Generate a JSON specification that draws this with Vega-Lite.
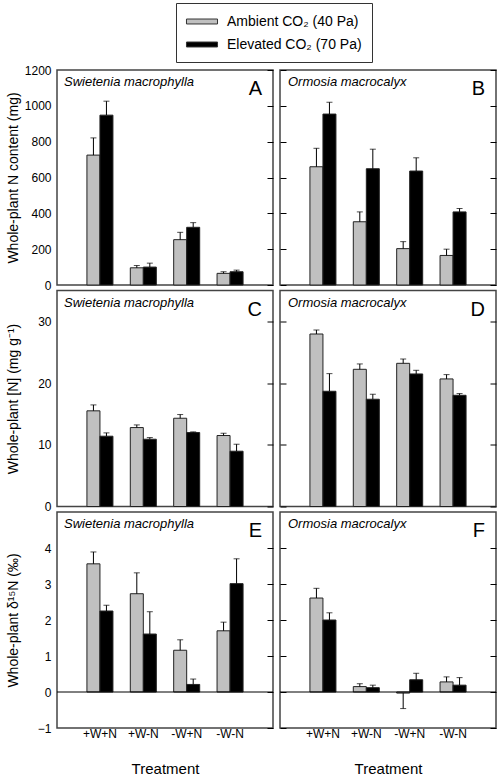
{
"$schema": "https://vega.github.io/schema/vega-lite/v6.json",
"background": "white",
"padding": {"left": 5, "top": 2, "right": 0, "bottom": 0},
"columns": 2,
"bounds": "flush",
"spacing": {"row": 5.5, "column": 7},
"config": {
  "font": "Liberation Sans",
  "view": {"stroke": "#444", "strokeWidth": 1.5},
  "axis": {"labelColor": "black", "titleColor": "black", "tickColor": "black", "labelFontSize": 12, "titleFontWeight": "normal", "grid": false, "domain": false, "tickWidth": 1},
  "legend": {"labelColor": "black"}
},
"datasets": {
  "bars": [
    {"panel": "A", "treatment": "+W+N", "co2": "Ambient CO₂ (40 Pa)", "value": 725, "hi": 821},
    {"panel": "A", "treatment": "+W+N", "co2": "Elevated CO₂ (70 Pa)", "value": 948, "hi": 1026},
    {"panel": "A", "treatment": "+W-N", "co2": "Ambient CO₂ (40 Pa)", "value": 96, "hi": 109},
    {"panel": "A", "treatment": "+W-N", "co2": "Elevated CO₂ (70 Pa)", "value": 100, "hi": 122},
    {"panel": "A", "treatment": "-W+N", "co2": "Ambient CO₂ (40 Pa)", "value": 253, "hi": 294},
    {"panel": "A", "treatment": "-W+N", "co2": "Elevated CO₂ (70 Pa)", "value": 322, "hi": 348},
    {"panel": "A", "treatment": "-W-N", "co2": "Ambient CO₂ (40 Pa)", "value": 65, "hi": 74},
    {"panel": "A", "treatment": "-W-N", "co2": "Elevated CO₂ (70 Pa)", "value": 74, "hi": 83},
    {"panel": "B", "treatment": "+W+N", "co2": "Ambient CO₂ (40 Pa)", "value": 660, "hi": 763},
    {"panel": "B", "treatment": "+W+N", "co2": "Elevated CO₂ (70 Pa)", "value": 954, "hi": 1020},
    {"panel": "B", "treatment": "+W-N", "co2": "Ambient CO₂ (40 Pa)", "value": 353, "hi": 408},
    {"panel": "B", "treatment": "+W-N", "co2": "Elevated CO₂ (70 Pa)", "value": 649, "hi": 758},
    {"panel": "B", "treatment": "-W+N", "co2": "Ambient CO₂ (40 Pa)", "value": 203, "hi": 242},
    {"panel": "B", "treatment": "-W+N", "co2": "Elevated CO₂ (70 Pa)", "value": 636, "hi": 710},
    {"panel": "B", "treatment": "-W-N", "co2": "Ambient CO₂ (40 Pa)", "value": 165, "hi": 200},
    {"panel": "B", "treatment": "-W-N", "co2": "Elevated CO₂ (70 Pa)", "value": 408, "hi": 427},
    {"panel": "C", "treatment": "+W+N", "co2": "Ambient CO₂ (40 Pa)", "value": 15.5, "hi": 16.46},
    {"panel": "C", "treatment": "+W+N", "co2": "Elevated CO₂ (70 Pa)", "value": 11.39, "hi": 11.93},
    {"panel": "C", "treatment": "+W-N", "co2": "Ambient CO₂ (40 Pa)", "value": 12.79, "hi": 13.22},
    {"panel": "C", "treatment": "+W-N", "co2": "Elevated CO₂ (70 Pa)", "value": 10.9, "hi": 11.17},
    {"panel": "C", "treatment": "-W+N", "co2": "Ambient CO₂ (40 Pa)", "value": 14.3, "hi": 14.9},
    {"panel": "C", "treatment": "-W+N", "co2": "Elevated CO₂ (70 Pa)", "value": 11.98, "hi": 12.09},
    {"panel": "C", "treatment": "-W-N", "co2": "Ambient CO₂ (40 Pa)", "value": 11.5, "hi": 11.87},
    {"panel": "C", "treatment": "-W-N", "co2": "Elevated CO₂ (70 Pa)", "value": 8.96, "hi": 10.09},
    {"panel": "D", "treatment": "+W+N", "co2": "Ambient CO₂ (40 Pa)", "value": 27.95, "hi": 28.6},
    {"panel": "D", "treatment": "+W+N", "co2": "Elevated CO₂ (70 Pa)", "value": 18.67, "hi": 21.53},
    {"panel": "D", "treatment": "+W-N", "co2": "Ambient CO₂ (40 Pa)", "value": 22.23, "hi": 23.1},
    {"panel": "D", "treatment": "+W-N", "co2": "Elevated CO₂ (70 Pa)", "value": 17.38, "hi": 18.19},
    {"panel": "D", "treatment": "-W+N", "co2": "Ambient CO₂ (40 Pa)", "value": 23.2, "hi": 23.9},
    {"panel": "D", "treatment": "-W+N", "co2": "Elevated CO₂ (70 Pa)", "value": 21.48, "hi": 22.07},
    {"panel": "D", "treatment": "-W-N", "co2": "Ambient CO₂ (40 Pa)", "value": 20.67, "hi": 21.37},
    {"panel": "D", "treatment": "-W-N", "co2": "Elevated CO₂ (70 Pa)", "value": 18.02, "hi": 18.3},
    {"panel": "E", "treatment": "+W+N", "co2": "Ambient CO₂ (40 Pa)", "value": 3.56, "hi": 3.89},
    {"panel": "E", "treatment": "+W+N", "co2": "Elevated CO₂ (70 Pa)", "value": 2.25, "hi": 2.41},
    {"panel": "E", "treatment": "+W-N", "co2": "Ambient CO₂ (40 Pa)", "value": 2.73, "hi": 3.31},
    {"panel": "E", "treatment": "+W-N", "co2": "Elevated CO₂ (70 Pa)", "value": 1.61, "hi": 2.23},
    {"panel": "E", "treatment": "-W+N", "co2": "Ambient CO₂ (40 Pa)", "value": 1.16, "hi": 1.45},
    {"panel": "E", "treatment": "-W+N", "co2": "Elevated CO₂ (70 Pa)", "value": 0.21, "hi": 0.36},
    {"panel": "E", "treatment": "-W-N", "co2": "Ambient CO₂ (40 Pa)", "value": 1.7, "hi": 1.94},
    {"panel": "E", "treatment": "-W-N", "co2": "Elevated CO₂ (70 Pa)", "value": 3.01, "hi": 3.7},
    {"panel": "F", "treatment": "+W+N", "co2": "Ambient CO₂ (40 Pa)", "value": 2.61, "hi": 2.88},
    {"panel": "F", "treatment": "+W+N", "co2": "Elevated CO₂ (70 Pa)", "value": 2.0, "hi": 2.2},
    {"panel": "F", "treatment": "+W-N", "co2": "Ambient CO₂ (40 Pa)", "value": 0.15, "hi": 0.23},
    {"panel": "F", "treatment": "+W-N", "co2": "Elevated CO₂ (70 Pa)", "value": 0.12, "hi": 0.19},
    {"panel": "F", "treatment": "-W+N", "co2": "Ambient CO₂ (40 Pa)", "value": -0.03, "hi": -0.46},
    {"panel": "F", "treatment": "-W+N", "co2": "Elevated CO₂ (70 Pa)", "value": 0.34, "hi": 0.52},
    {"panel": "F", "treatment": "-W-N", "co2": "Ambient CO₂ (40 Pa)", "value": 0.28, "hi": 0.42},
    {"panel": "F", "treatment": "-W-N", "co2": "Elevated CO₂ (70 Pa)", "value": 0.19, "hi": 0.4}
  ],
  "labels": [
    {"panel": "A", "species": "Swietenia macrophylla", "letter": "A"},
    {"panel": "B", "species": "Ormosia macrocalyx", "letter": "B"},
    {"panel": "C", "species": "Swietenia macrophylla", "letter": "C"},
    {"panel": "D", "species": "Ormosia macrocalyx", "letter": "D"},
    {"panel": "E", "species": "Swietenia macrophylla", "letter": "E"},
    {"panel": "F", "species": "Ormosia macrocalyx", "letter": "F"}
  ]
},
"concat": [
 {"width": 216, "height": 215, "resolve": {"axis": {"y": "independent"}}, "layer": [
  {"data": {"name": "bars"}, "transform": [{"filter": "datum.panel === 'A'"}],
   "mark": {"type": "bar", "stroke": "#222", "strokeWidth": 1},
   "encoding": {
     "x": {"field": "treatment", "type": "nominal", "sort": ["+W+N", "+W-N", "-W+N", "-W-N"], "scale": {"paddingInner": 0.4, "paddingOuter": 0.69}, "axis": null},
     "xOffset": {"field": "co2", "type": "nominal", "scale": {"paddingInner": 0, "paddingOuter": 0}},
     "y": {"field": "value", "type": "quantitative", "scale": {"domain": [0, 1200], "nice": false}, "axis": {"orient": "left", "values": [0, 200, 400, 600, 800, 1000, 1200], "format": "d", "ticks": false, "labelPadding": 6, "title": "Whole-plant N content (mg)", "titleFontSize": 14, "titleX": -44, "titleY": 107.5, "titleBaseline": "middle"}},
     "color": {"field": "co2", "type": "nominal", "scale": {"range": ["#c0c0c0", "#000000"]}, "legend": {"title": null, "orient": "none", "legendX": 119, "legendY": -67, "symbolType": "M-1.94,-0.31L1.94,-0.31L1.94,0.31L-1.94,0.31Z", "symbolSize": 256, "symbolOffset": 7.5, "symbolStrokeColor": "#333", "symbolStrokeWidth": 1, "labelFontSize": 14, "labelOffset": 16.5, "padding": 10, "rowPadding": 7, "strokeColor": "#333", "labelLimit": 300}}
   }},
  {"data": {"name": "bars"}, "transform": [{"filter": "datum.panel === 'A'"}],
   "mark": {"type": "rule", "color": "black", "strokeWidth": 1},
   "encoding": {
     "x": {"field": "treatment", "type": "nominal", "sort": ["+W+N", "+W-N", "-W+N", "-W-N"], "axis": null},
     "xOffset": {"field": "co2", "type": "nominal"},
     "y": {"field": "value", "type": "quantitative", "scale": {"domain": [0, 1200], "nice": false}, "axis": {"orient": "right", "values": [0, 200, 400, 600, 800, 1000, 1200], "labels": false, "tickSize": -6, "title": null}},
     "y2": {"field": "hi"}
   }},
  {"data": {"name": "bars"}, "transform": [{"filter": "datum.panel === 'A'"}],
   "mark": {"type": "tick", "color": "black", "size": 6, "thickness": 1},
   "encoding": {
     "x": {"field": "treatment", "type": "nominal", "sort": ["+W+N", "+W-N", "-W+N", "-W-N"], "axis": null},
     "xOffset": {"field": "co2", "type": "nominal"},
     "y": {"field": "hi", "type": "quantitative", "scale": {"domain": [0, 1200], "nice": false}, "axis": null}
   }},
  {"data": {"name": "labels"}, "transform": [{"filter": "datum.panel === 'A'"}],
   "mark": {"type": "text", "fontStyle": "italic", "fontSize": 13, "align": "left", "baseline": "top"},
   "encoding": {"text": {"field": "species"}, "x": {"value": 7}, "y": {"value": 6}}},
  {"data": {"name": "labels"}, "transform": [{"filter": "datum.panel === 'A'"}],
   "mark": {"type": "text", "fontSize": 20, "align": "right", "baseline": "alphabetic"},
   "encoding": {"text": {"field": "letter"}, "x": {"value": 205}, "y": {"value": 25}}}
 ]},
 {"width": 216, "height": 215, "resolve": {"axis": {"y": "independent"}}, "layer": [
  {"data": {"name": "bars"}, "transform": [{"filter": "datum.panel === 'B'"}],
   "mark": {"type": "bar", "stroke": "#222", "strokeWidth": 1},
   "encoding": {
     "x": {"field": "treatment", "type": "nominal", "sort": ["+W+N", "+W-N", "-W+N", "-W-N"], "scale": {"paddingInner": 0.4, "paddingOuter": 0.69}, "axis": null},
     "xOffset": {"field": "co2", "type": "nominal", "scale": {"paddingInner": 0, "paddingOuter": 0}},
     "y": {"field": "value", "type": "quantitative", "scale": {"domain": [0, 1200], "nice": false}, "axis": {"orient": "left", "values": [0, 200, 400, 600, 800, 1000, 1200], "labels": false, "tickSize": -6, "title": null}},
     "color": {"field": "co2", "type": "nominal", "scale": {"range": ["#c0c0c0", "#000000"]}, "legend": {"title": null, "orient": "none", "legendX": 119, "legendY": -67, "symbolType": "M-1.94,-0.31L1.94,-0.31L1.94,0.31L-1.94,0.31Z", "symbolSize": 256, "symbolOffset": 7.5, "symbolStrokeColor": "#333", "symbolStrokeWidth": 1, "labelFontSize": 14, "labelOffset": 16.5, "padding": 10, "rowPadding": 7, "strokeColor": "#333", "labelLimit": 300}}
   }},
  {"data": {"name": "bars"}, "transform": [{"filter": "datum.panel === 'B'"}],
   "mark": {"type": "rule", "color": "black", "strokeWidth": 1},
   "encoding": {
     "x": {"field": "treatment", "type": "nominal", "sort": ["+W+N", "+W-N", "-W+N", "-W-N"], "axis": null},
     "xOffset": {"field": "co2", "type": "nominal"},
     "y": {"field": "value", "type": "quantitative", "scale": {"domain": [0, 1200], "nice": false}, "axis": {"orient": "right", "values": [0, 200, 400, 600, 800, 1000, 1200], "labels": false, "tickSize": -6, "title": null}},
     "y2": {"field": "hi"}
   }},
  {"data": {"name": "bars"}, "transform": [{"filter": "datum.panel === 'B'"}],
   "mark": {"type": "tick", "color": "black", "size": 6, "thickness": 1},
   "encoding": {
     "x": {"field": "treatment", "type": "nominal", "sort": ["+W+N", "+W-N", "-W+N", "-W-N"], "axis": null},
     "xOffset": {"field": "co2", "type": "nominal"},
     "y": {"field": "hi", "type": "quantitative", "scale": {"domain": [0, 1200], "nice": false}, "axis": null}
   }},
  {"data": {"name": "labels"}, "transform": [{"filter": "datum.panel === 'B'"}],
   "mark": {"type": "text", "fontStyle": "italic", "fontSize": 13, "align": "left", "baseline": "top"},
   "encoding": {"text": {"field": "species"}, "x": {"value": 8}, "y": {"value": 6}}},
  {"data": {"name": "labels"}, "transform": [{"filter": "datum.panel === 'B'"}],
   "mark": {"type": "text", "fontSize": 20, "align": "right", "baseline": "alphabetic"},
   "encoding": {"text": {"field": "letter"}, "x": {"value": 205}, "y": {"value": 25}}}
 ]},
 {"width": 216, "height": 216, "resolve": {"axis": {"y": "independent"}}, "layer": [
  {"data": {"name": "bars"}, "transform": [{"filter": "datum.panel === 'C'"}],
   "mark": {"type": "bar", "stroke": "#222", "strokeWidth": 1},
   "encoding": {
     "x": {"field": "treatment", "type": "nominal", "sort": ["+W+N", "+W-N", "-W+N", "-W-N"], "scale": {"paddingInner": 0.4, "paddingOuter": 0.69}, "axis": null},
     "xOffset": {"field": "co2", "type": "nominal", "scale": {"paddingInner": 0, "paddingOuter": 0}},
     "y": {"field": "value", "type": "quantitative", "scale": {"domain": [0, 35], "nice": false}, "axis": {"orient": "left", "values": [0, 10, 20, 30], "ticks": false, "labelPadding": 6, "title": "Whole-plant [N] (mg g⁻¹)", "titleFontSize": 14, "titleX": -44, "titleY": 108, "titleBaseline": "middle"}},
     "color": {"field": "co2", "type": "nominal", "scale": {"range": ["#c0c0c0", "#000000"]}, "legend": {"title": null, "orient": "none", "legendX": 119, "legendY": -67, "symbolType": "M-1.94,-0.31L1.94,-0.31L1.94,0.31L-1.94,0.31Z", "symbolSize": 256, "symbolOffset": 7.5, "symbolStrokeColor": "#333", "symbolStrokeWidth": 1, "labelFontSize": 14, "labelOffset": 16.5, "padding": 10, "rowPadding": 7, "strokeColor": "#333", "labelLimit": 300}}
   }},
  {"data": {"name": "bars"}, "transform": [{"filter": "datum.panel === 'C'"}],
   "mark": {"type": "rule", "color": "black", "strokeWidth": 1},
   "encoding": {
     "x": {"field": "treatment", "type": "nominal", "sort": ["+W+N", "+W-N", "-W+N", "-W-N"], "axis": null},
     "xOffset": {"field": "co2", "type": "nominal"},
     "y": {"field": "value", "type": "quantitative", "scale": {"domain": [0, 35], "nice": false}, "axis": {"orient": "right", "values": [0, 10, 20, 30], "labels": false, "tickSize": -6, "title": null}},
     "y2": {"field": "hi"}
   }},
  {"data": {"name": "bars"}, "transform": [{"filter": "datum.panel === 'C'"}],
   "mark": {"type": "tick", "color": "black", "size": 6, "thickness": 1},
   "encoding": {
     "x": {"field": "treatment", "type": "nominal", "sort": ["+W+N", "+W-N", "-W+N", "-W-N"], "axis": null},
     "xOffset": {"field": "co2", "type": "nominal"},
     "y": {"field": "hi", "type": "quantitative", "scale": {"domain": [0, 35], "nice": false}, "axis": null}
   }},
  {"data": {"name": "labels"}, "transform": [{"filter": "datum.panel === 'C'"}],
   "mark": {"type": "text", "fontStyle": "italic", "fontSize": 13, "align": "left", "baseline": "top"},
   "encoding": {"text": {"field": "species"}, "x": {"value": 7}, "y": {"value": 6}}},
  {"data": {"name": "labels"}, "transform": [{"filter": "datum.panel === 'C'"}],
   "mark": {"type": "text", "fontSize": 20, "align": "right", "baseline": "alphabetic"},
   "encoding": {"text": {"field": "letter"}, "x": {"value": 205}, "y": {"value": 25}}}
 ]},
 {"width": 216, "height": 216, "resolve": {"axis": {"y": "independent"}}, "layer": [
  {"data": {"name": "bars"}, "transform": [{"filter": "datum.panel === 'D'"}],
   "mark": {"type": "bar", "stroke": "#222", "strokeWidth": 1},
   "encoding": {
     "x": {"field": "treatment", "type": "nominal", "sort": ["+W+N", "+W-N", "-W+N", "-W-N"], "scale": {"paddingInner": 0.4, "paddingOuter": 0.69}, "axis": null},
     "xOffset": {"field": "co2", "type": "nominal", "scale": {"paddingInner": 0, "paddingOuter": 0}},
     "y": {"field": "value", "type": "quantitative", "scale": {"domain": [0, 35], "nice": false}, "axis": {"orient": "left", "values": [0, 10, 20, 30], "labels": false, "tickSize": -6, "title": null}},
     "color": {"field": "co2", "type": "nominal", "scale": {"range": ["#c0c0c0", "#000000"]}, "legend": {"title": null, "orient": "none", "legendX": 119, "legendY": -67, "symbolType": "M-1.94,-0.31L1.94,-0.31L1.94,0.31L-1.94,0.31Z", "symbolSize": 256, "symbolOffset": 7.5, "symbolStrokeColor": "#333", "symbolStrokeWidth": 1, "labelFontSize": 14, "labelOffset": 16.5, "padding": 10, "rowPadding": 7, "strokeColor": "#333", "labelLimit": 300}}
   }},
  {"data": {"name": "bars"}, "transform": [{"filter": "datum.panel === 'D'"}],
   "mark": {"type": "rule", "color": "black", "strokeWidth": 1},
   "encoding": {
     "x": {"field": "treatment", "type": "nominal", "sort": ["+W+N", "+W-N", "-W+N", "-W-N"], "axis": null},
     "xOffset": {"field": "co2", "type": "nominal"},
     "y": {"field": "value", "type": "quantitative", "scale": {"domain": [0, 35], "nice": false}, "axis": {"orient": "right", "values": [0, 10, 20, 30], "labels": false, "tickSize": -6, "title": null}},
     "y2": {"field": "hi"}
   }},
  {"data": {"name": "bars"}, "transform": [{"filter": "datum.panel === 'D'"}],
   "mark": {"type": "tick", "color": "black", "size": 6, "thickness": 1},
   "encoding": {
     "x": {"field": "treatment", "type": "nominal", "sort": ["+W+N", "+W-N", "-W+N", "-W-N"], "axis": null},
     "xOffset": {"field": "co2", "type": "nominal"},
     "y": {"field": "hi", "type": "quantitative", "scale": {"domain": [0, 35], "nice": false}, "axis": null}
   }},
  {"data": {"name": "labels"}, "transform": [{"filter": "datum.panel === 'D'"}],
   "mark": {"type": "text", "fontStyle": "italic", "fontSize": 13, "align": "left", "baseline": "top"},
   "encoding": {"text": {"field": "species"}, "x": {"value": 8}, "y": {"value": 6}}},
  {"data": {"name": "labels"}, "transform": [{"filter": "datum.panel === 'D'"}],
   "mark": {"type": "text", "fontSize": 20, "align": "right", "baseline": "alphabetic"},
   "encoding": {"text": {"field": "letter"}, "x": {"value": 205}, "y": {"value": 25}}}
 ]},
 {"width": 216, "height": 216, "resolve": {"axis": {"y": "independent"}}, "layer": [
  {"data": {"name": "bars"}, "transform": [{"filter": "datum.panel === 'E'"}],
   "mark": {"type": "bar", "stroke": "#222", "strokeWidth": 1},
   "encoding": {
     "x": {"field": "treatment", "type": "nominal", "sort": ["+W+N", "+W-N", "-W+N", "-W-N"], "scale": {"paddingInner": 0.4, "paddingOuter": 0.69}, "axis": {"title": "Treatment", "labelAngle": 0, "ticks": false, "labelPadding": 0, "titleFontSize": 15, "titlePadding": 22}},
     "xOffset": {"field": "co2", "type": "nominal", "scale": {"paddingInner": 0, "paddingOuter": 0}},
     "y": {"field": "value", "type": "quantitative", "scale": {"domain": [-1, 5], "nice": false}, "axis": {"orient": "left", "values": [-1, 0, 1, 2, 3, 4], "ticks": false, "labelPadding": 6, "title": "Whole-plant δ¹⁵N (‰)", "titleFontSize": 14, "titleX": -44, "titleY": 108, "titleBaseline": "middle"}},
     "color": {"field": "co2", "type": "nominal", "scale": {"range": ["#c0c0c0", "#000000"]}, "legend": {"title": null, "orient": "none", "legendX": 119, "legendY": -67, "symbolType": "M-1.94,-0.31L1.94,-0.31L1.94,0.31L-1.94,0.31Z", "symbolSize": 256, "symbolOffset": 7.5, "symbolStrokeColor": "#333", "symbolStrokeWidth": 1, "labelFontSize": 14, "labelOffset": 16.5, "padding": 10, "rowPadding": 7, "strokeColor": "#333", "labelLimit": 300}}
   }},
  {"data": {"name": "labels"}, "transform": [{"filter": "datum.panel === 'E'"}],
   "mark": {"type": "rule", "color": "black", "strokeWidth": 1},
   "encoding": {"y": {"datum": 0, "type": "quantitative", "scale": {"domain": [-1, 5], "nice": false}, "axis": null}}},
  {"data": {"name": "bars"}, "transform": [{"filter": "datum.panel === 'E'"}],
   "mark": {"type": "rule", "color": "black", "strokeWidth": 1},
   "encoding": {
     "x": {"field": "treatment", "type": "nominal", "sort": ["+W+N", "+W-N", "-W+N", "-W-N"], "axis": {"title": "Treatment", "labelAngle": 0, "ticks": false, "labelPadding": 0, "titleFontSize": 15, "titlePadding": 22}},
     "xOffset": {"field": "co2", "type": "nominal"},
     "y": {"field": "value", "type": "quantitative", "scale": {"domain": [-1, 5], "nice": false}, "axis": {"orient": "right", "values": [-1, 0, 1, 2, 3, 4], "labels": false, "tickSize": -6, "title": null}},
     "y2": {"field": "hi"}
   }},
  {"data": {"name": "bars"}, "transform": [{"filter": "datum.panel === 'E'"}],
   "mark": {"type": "tick", "color": "black", "size": 6, "thickness": 1},
   "encoding": {
     "x": {"field": "treatment", "type": "nominal", "sort": ["+W+N", "+W-N", "-W+N", "-W-N"], "axis": {"title": "Treatment", "labelAngle": 0, "ticks": false, "labelPadding": 0, "titleFontSize": 15, "titlePadding": 22}},
     "xOffset": {"field": "co2", "type": "nominal"},
     "y": {"field": "hi", "type": "quantitative", "scale": {"domain": [-1, 5], "nice": false}, "axis": null}
   }},
  {"data": {"name": "labels"}, "transform": [{"filter": "datum.panel === 'E'"}],
   "mark": {"type": "text", "fontStyle": "italic", "fontSize": 13, "align": "left", "baseline": "top"},
   "encoding": {"text": {"field": "species"}, "x": {"value": 7}, "y": {"value": 6}}},
  {"data": {"name": "labels"}, "transform": [{"filter": "datum.panel === 'E'"}],
   "mark": {"type": "text", "fontSize": 20, "align": "right", "baseline": "alphabetic"},
   "encoding": {"text": {"field": "letter"}, "x": {"value": 205}, "y": {"value": 25}}}
 ]},
 {"width": 216, "height": 216, "resolve": {"axis": {"y": "independent"}}, "layer": [
  {"data": {"name": "bars"}, "transform": [{"filter": "datum.panel === 'F'"}],
   "mark": {"type": "bar", "stroke": "#222", "strokeWidth": 1},
   "encoding": {
     "x": {"field": "treatment", "type": "nominal", "sort": ["+W+N", "+W-N", "-W+N", "-W-N"], "scale": {"paddingInner": 0.4, "paddingOuter": 0.69}, "axis": {"title": "Treatment", "labelAngle": 0, "ticks": false, "labelPadding": 0, "titleFontSize": 15, "titlePadding": 22}},
     "xOffset": {"field": "co2", "type": "nominal", "scale": {"paddingInner": 0, "paddingOuter": 0}},
     "y": {"field": "value", "type": "quantitative", "scale": {"domain": [-1, 5], "nice": false}, "axis": {"orient": "left", "values": [-1, 0, 1, 2, 3, 4], "labels": false, "tickSize": -6, "title": null}},
     "color": {"field": "co2", "type": "nominal", "scale": {"range": ["#c0c0c0", "#000000"]}, "legend": {"title": null, "orient": "none", "legendX": 119, "legendY": -67, "symbolType": "M-1.94,-0.31L1.94,-0.31L1.94,0.31L-1.94,0.31Z", "symbolSize": 256, "symbolOffset": 7.5, "symbolStrokeColor": "#333", "symbolStrokeWidth": 1, "labelFontSize": 14, "labelOffset": 16.5, "padding": 10, "rowPadding": 7, "strokeColor": "#333", "labelLimit": 300}}
   }},
  {"data": {"name": "labels"}, "transform": [{"filter": "datum.panel === 'F'"}],
   "mark": {"type": "rule", "color": "black", "strokeWidth": 1},
   "encoding": {"y": {"datum": 0, "type": "quantitative", "scale": {"domain": [-1, 5], "nice": false}, "axis": null}}},
  {"data": {"name": "bars"}, "transform": [{"filter": "datum.panel === 'F'"}],
   "mark": {"type": "rule", "color": "black", "strokeWidth": 1},
   "encoding": {
     "x": {"field": "treatment", "type": "nominal", "sort": ["+W+N", "+W-N", "-W+N", "-W-N"], "axis": {"title": "Treatment", "labelAngle": 0, "ticks": false, "labelPadding": 0, "titleFontSize": 15, "titlePadding": 22}},
     "xOffset": {"field": "co2", "type": "nominal"},
     "y": {"field": "value", "type": "quantitative", "scale": {"domain": [-1, 5], "nice": false}, "axis": {"orient": "right", "values": [-1, 0, 1, 2, 3, 4], "labels": false, "tickSize": -6, "title": null}},
     "y2": {"field": "hi"}
   }},
  {"data": {"name": "bars"}, "transform": [{"filter": "datum.panel === 'F'"}],
   "mark": {"type": "tick", "color": "black", "size": 6, "thickness": 1},
   "encoding": {
     "x": {"field": "treatment", "type": "nominal", "sort": ["+W+N", "+W-N", "-W+N", "-W-N"], "axis": {"title": "Treatment", "labelAngle": 0, "ticks": false, "labelPadding": 0, "titleFontSize": 15, "titlePadding": 22}},
     "xOffset": {"field": "co2", "type": "nominal"},
     "y": {"field": "hi", "type": "quantitative", "scale": {"domain": [-1, 5], "nice": false}, "axis": null}
   }},
  {"data": {"name": "labels"}, "transform": [{"filter": "datum.panel === 'F'"}],
   "mark": {"type": "text", "fontStyle": "italic", "fontSize": 13, "align": "left", "baseline": "top"},
   "encoding": {"text": {"field": "species"}, "x": {"value": 8}, "y": {"value": 6}}},
  {"data": {"name": "labels"}, "transform": [{"filter": "datum.panel === 'F'"}],
   "mark": {"type": "text", "fontSize": 20, "align": "right", "baseline": "alphabetic"},
   "encoding": {"text": {"field": "letter"}, "x": {"value": 205}, "y": {"value": 25}}}
 ]}
]
}
